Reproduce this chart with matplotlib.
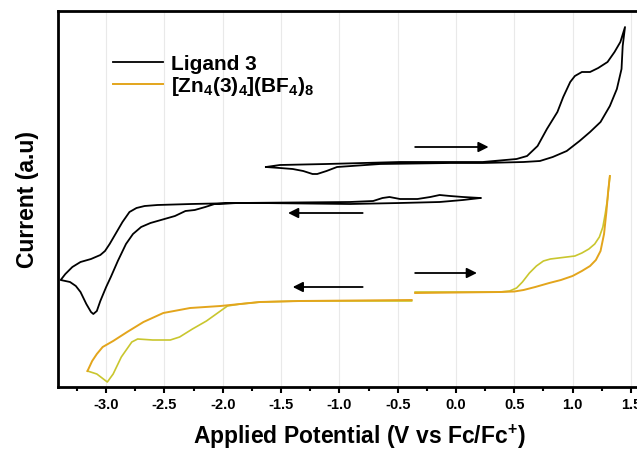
import numpy as np
import matplotlib
matplotlib.use("Agg")
import matplotlib.pyplot as plt
from matplotlib.ticker import MultipleLocator

plt.rcParams["font.family"] = ["Liberation Sans", "DejaVu Sans"]
plt.rcParams["font.weight"] = "bold"
plt.rcParams["axes.labelweight"] = "bold"
plt.rcParams["mathtext.fontset"] = "custom"
plt.rcParams["mathtext.rm"] = "Liberation Sans:bold"
plt.rcParams["mathtext.bf"] = "Liberation Sans:bold"
plt.rcParams["mathtext.default"] = "bf"

# Ligand 3, oxidative scan (starts at -1.63 V, goes positive, comes back)
lig_ox_v = [-1.63, -1.51, -1.11, -0.48, -0.05, 0.23, 0.52, 0.61, 0.70, 0.78, 0.87, 0.92,
            0.98, 1.02, 1.08, 1.15, 1.22, 1.30, 1.36, 1.41, 1.45,
            1.43, 1.42, 1.38, 1.32, 1.24, 1.15, 1.06, 0.95, 0.83, 0.72, 0.58, 0.23,
            -0.05, -0.65, -1.02, -1.11, -1.19, -1.23, -1.31, -1.40, -1.51, -1.63]
lig_ox_i = [22.0, 22.2, 22.3, 22.5, 22.5, 22.5, 22.8, 23.1, 24.1, 25.8, 27.5, 29.0,
            30.5, 31.1, 31.5, 31.5, 31.9, 32.5, 33.5, 34.5, 36.0,
            34.1, 31.8, 29.8, 28.1, 26.5, 25.5, 24.6, 23.6, 23.0, 22.6, 22.5, 22.4,
            22.4, 22.3, 22.0, 21.6, 21.3, 21.3, 21.6, 21.8, 21.9, 22.0]

# Ligand 3, reductive scan (starts at 0.21 V, goes negative, comes back)
lig_red_v = [0.21, 0.06, -0.14, -0.48, -0.91, -1.68, -1.87, -2.07, -2.15, -2.24, -2.32,
             -2.41, -2.50, -2.62, -2.70, -2.77, -2.83, -2.90, -2.96, -3.00, -3.05, -3.08,
             -3.11, -3.13, -3.17, -3.22, -3.26, -3.31, -3.39,
             -3.35, -3.29, -3.22, -3.13, -3.05, -3.01, -2.97, -2.92, -2.86, -2.80, -2.74,
             -2.67, -2.56, -2.27, -1.87, -0.91, -0.71, -0.63, -0.57, -0.48, -0.33, -0.22,
             -0.14, -0.05, 0.06, 0.21]
lig_red_i = [18.9, 18.7, 18.5, 18.4, 18.3, 18.4, 18.4, 18.3, 18.0, 17.7, 17.6,
             17.1, 16.8, 16.4, 16.0, 15.3, 14.3, 12.6, 11.0, 10.0, 8.6, 7.6,
             7.3, 7.5, 8.3, 9.5, 10.1, 10.5, 10.7,
             11.3, 12.0, 12.5, 12.8, 13.2, 13.6, 14.3, 15.3, 16.5, 17.5, 17.9,
             18.1, 18.2, 18.3, 18.4, 18.5, 18.6, 18.9, 19.0, 18.8, 18.8, 19.0,
             19.2, 19.1, 19.0, 18.9]

# [Zn4(3)4](BF4)8, reductive scan: forward and return branches
zn_red_fwd_v = [-0.38, -0.91, -1.34, -1.68, -1.85, -1.96, -2.02, -2.14, -2.26, -2.37,
                -2.45, -2.60, -2.73, -2.78, -2.87, -2.94, -2.99, -3.08, -3.16]
zn_red_fwd_i = [8.6, 8.6, 8.6, 8.5, 8.3, 8.1, 7.6, 6.6, 5.8, 5.0,
                4.7, 4.7, 4.8, 4.5, 3.0, 1.3, 0.5, 1.3, 1.6]
zn_red_ret_v = [-3.16, -3.12, -3.08, -3.03, -2.94, -2.82, -2.68, -2.51, -2.28, -2.02,
                -1.68, -1.34, -0.38]
zn_red_ret_i = [1.6, 2.6, 3.3, 4.0, 4.6, 5.5, 6.5, 7.4, 7.9, 8.1,
                8.5, 8.6, 8.7]

# [Zn4(3)4](BF4)8, oxidative scan: forward and return branches
zn_ox_fwd_v = [-0.35, 0.38, 0.46, 0.52, 0.57, 0.63, 0.69, 0.75, 0.81, 0.88, 0.95, 1.02,
               1.08, 1.14, 1.19, 1.23, 1.26, 1.28, 1.30, 1.31, 1.32]
zn_ox_fwd_i = [9.5, 9.5, 9.6, 9.9, 10.5, 11.4, 12.1, 12.6, 12.8, 12.9, 13.0, 13.1,
               13.4, 13.8, 14.3, 15.0, 16.0, 17.3, 18.8, 20.0, 21.1]
zn_ox_ret_v = [1.32, 1.305, 1.29, 1.27, 1.24, 1.20, 1.15, 1.08, 1.00, 0.90, 0.80, 0.68,
               0.58, 0.50, 0.38, -0.35]
zn_ox_ret_i = [21.1, 19.5, 17.5, 15.3, 13.6, 12.7, 12.1, 11.6, 11.1, 10.7, 10.4, 10.0,
               9.7, 9.55, 9.5, 9.4]

# scan direction arrows: (start V, end V, current)
arrows = [(-0.35, 0.28, 24.0), (-0.80, -1.44, 17.4), (-0.80, -1.40, 10.0), (-0.35, 0.18, 11.4)]

labels = ["Ligand 3", r"[Zn$_4$(3)$_4$](BF$_4$)$_8$"]
xticks = [-3.0, -2.5, -2.0, -1.5, -1.0, -0.5, 0.0, 0.5, 1.0, 1.5]

black = "black"
zn_fwd = "#C9C62E"
zn_ret = "#E3A51C"

fig = plt.figure(figsize=(6.37, 4.52), dpi=100)
ax = fig.add_axes([58 / 637, 1 - 388 / 452, (660 - 58) / 637, (388 - 12) / 452])

l1, = ax.plot(lig_ox_v, lig_ox_i, color=black, lw=1.3, solid_joinstyle="round")
ax.plot(lig_red_v, lig_red_i, color=black, lw=1.3, solid_joinstyle="round")
ax.plot(zn_red_fwd_v, zn_red_fwd_i, color=zn_fwd, lw=1.2, solid_joinstyle="round")
l2, = ax.plot(zn_red_ret_v, zn_red_ret_i, color=zn_ret, lw=1.4, solid_joinstyle="round")
ax.plot(zn_ox_fwd_v, zn_ox_fwd_i, color=zn_fwd, lw=1.2, solid_joinstyle="round")
ax.plot(zn_ox_ret_v, zn_ox_ret_i, color=zn_ret, lw=1.4, solid_joinstyle="round")

for x0, x1, y in arrows:
    ax.annotate("", xy=(x1, y), xytext=(x0, y),
                arrowprops=dict(arrowstyle="-|>", color="black", lw=1.3,
                                mutation_scale=15, shrinkA=0, shrinkB=0))

ax.legend([l1, l2], labels, loc="upper left", bbox_to_anchor=(0.092, 0.885),
          frameon=False, fontsize=15, handlelength=2.4, handletextpad=0.35,
          labelspacing=0.05, borderpad=0, borderaxespad=0)

ax.set_xlim(-3.413, 1.75)
ax.set_ylim(0, 37.6)
ax.set_xticks(xticks)
ax.set_xticklabels([f"{v:.1f}" for v in xticks])
ax.xaxis.set_minor_locator(MultipleLocator(0.25))
ax.set_yticks([])
ax.tick_params(axis="x", which="major", direction="out", length=4, width=1.5,
               labelsize=10.5, pad=3)
ax.tick_params(axis="x", which="minor", direction="out", length=3, width=1.5)
ax.grid(axis="x", which="major", color="#e9e9e9", lw=0.8)
ax.set_axisbelow(True)
for s in ["left", "bottom", "top"]:
    ax.spines[s].set_linewidth(2)
ax.spines["right"].set_visible(False)

ax.set_xlabel(r"Applied Potential (V vs Fc/Fc$^{+}$)", fontsize=16.5, labelpad=8)
ax.set_ylabel("Current (a.u)", fontsize=16.5, labelpad=14)

fig.savefig("out.png", dpi=100)
